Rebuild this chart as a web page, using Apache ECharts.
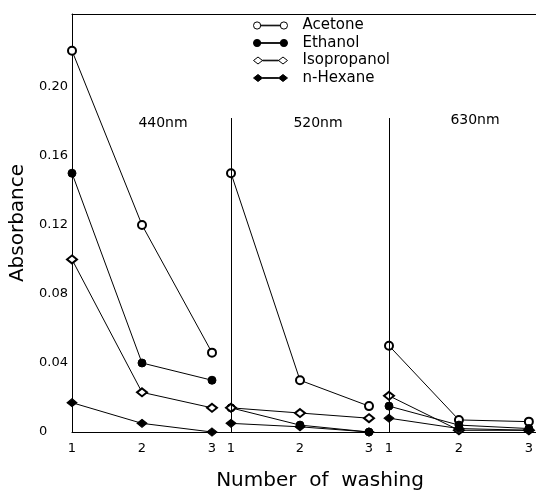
<!DOCTYPE html>
<html>
<head>
<meta charset="utf-8">
<script src="https://cdn.jsdelivr.net/npm/echarts@6/dist/echarts.min.js"></script>
<style>
html,body{margin:0;padding:0;background:#fff;}
#chart{width:536px;height:494px;}
</style>
</head>
<body>
<div id="chart"></div>
<script>
// ---- data ----
const washes = [1, 2, 3];
const panels = ['440nm', '520nm', '630nm'];
const solvents = ['Acetone', 'Ethanol', 'Isopropanol', 'n-Hexane'];
const yTicks = [0, 0.04, 0.08, 0.12, 0.16, 0.20];

const acetone440     = [0.221, 0.120, 0.046];
const ethanol440     = [0.150, 0.040, 0.030];
const isopropanol440 = [0.100, 0.023, 0.014];
const hexane440      = [0.017, 0.005, 0.000];

const acetone520     = [0.150, 0.030, 0.015];
const ethanol520     = [0.014, 0.004, 0.000];
const isopropanol520 = [0.014, 0.011, 0.008];
const hexane520      = [0.005, 0.003, 0.000];

const acetone630     = [0.050, 0.007, 0.006];
const ethanol630     = [0.015, 0.004, 0.002];
const isopropanol630 = [0.021, 0.001, 0.001];
const hexane630      = [0.008, 0.002, 0.001];

const panelData = [
  [acetone440, ethanol440, isopropanol440, hexane440],
  [acetone520, ethanol520, isopropanol520, hexane520],
  [acetone630, ethanol630, isopropanol630, hexane630]
];

// ---- styling ----
const FONT = 'DejaVu Sans';
const symbols = ['emptyCircle', 'circle', 'emptyDiamond', 'diamond'];
const symbolSizes = [8, 8, [10, 8], [10, 8]];
const hollow = [true, false, true, false];

const circIcon = 'path://M0.5,4.5a3.5,3.5 0 1,0 7,0a3.5,3.5 0 1,0 -7,0Z M7.5,4.2L26.5,4.2L26.5,4.8L7.5,4.8Z M26.5,4.5a3.5,3.5 0 1,0 7,0a3.5,3.5 0 1,0 -7,0Z';
const diaIcon = 'path://M0,4.5L4.5,1L9,4.5L4.5,8Z M9,4.2L25,4.2L25,4.8L9,4.8Z M25,4.5L29.5,1L34,4.5L29.5,8Z';
const icons = [circIcon, circIcon, diaIcon, diaIcon];

const gridLeft = [72, 231, 389];
const gridWidth = [159, 158, 147];
const xMax = [1 + 159 / 70, 1 + 158 / 69, 1 + 147 / 70];
const yMax = 0.2423;

const grids = gridLeft.map((l, i) => ({left: l, width: gridWidth[i], top: 14, height: 418}));

const xAxes = [];
for (let i = 0; i < 3; i++) {
  xAxes.push({
    type: 'value', gridIndex: i, min: 1, max: xMax[i], interval: 1,
    axisLine: {show: true, lineStyle: {color: '#000', width: 1}},
    axisTick: {show: false}, splitLine: {show: false},
    axisLabel: {color: '#000', fontFamily: FONT, fontSize: 13, margin: 10,
      showMaxLabel: false,
      formatter: v => (washes.indexOf(Math.round(v)) >= 0 && Math.abs(v - Math.round(v)) < 1e-6) ? String(Math.round(v)) : ''}
  });
}
for (let i = 0; i < 3; i++) {
  xAxes.push({
    type: 'value', gridIndex: i, position: 'top', min: 1, max: xMax[i],
    axisLine: {show: true, onZero: false, lineStyle: {color: '#000', width: 1}},
    axisTick: {show: false}, splitLine: {show: false}, axisLabel: {show: false}
  });
}

const yAxes = [0, 1, 2].map(i => ({
  type: 'value', gridIndex: i, min: 0, max: yMax, interval: 0.04,
  show: i === 0,
  name: i === 0 ? 'Absorbance' : '',
  nameLocation: 'middle', nameGap: 44,
  nameTextStyle: {color: '#000', fontFamily: FONT, fontSize: 20},
  axisLine: {show: true, lineStyle: {color: '#000', width: 1}},
  axisTick: {show: false}, splitLine: {show: false},
  axisLabel: {color: '#000', fontFamily: FONT, fontSize: 13, align: 'left', margin: 33,
    formatter: v => {
      const hit = yTicks.find(t => Math.abs(t - v) < 1e-6);
      if (hit === undefined) return '';
      return hit === 0 ? '0' : hit.toFixed(2);
    }}
}));

const series = [];
panelData.forEach((arrs, p) => {
  arrs.forEach((vals, s) => {
    const ser = {
      name: solvents[s], type: 'line', xAxisIndex: p, yAxisIndex: p,
      data: washes.map((w, k) => [w, vals[k]]),
      symbol: symbols[s], symbolSize: symbolSizes[s], showAllSymbol: true,
      lineStyle: {color: '#000', width: 1},
      itemStyle: {color: '#000', borderColor: '#000', borderWidth: 1},
      emphasis: {disabled: true},
      z: 3
    };
    if (s === 0 && p > 0) {
      ser.markLine = {
        symbol: 'none', silent: true, animation: false,
        label: {show: false},
        lineStyle: {color: '#000', width: 1, type: 'solid'},
        data: [[{coord: [1, 0]}, {coord: [1, 0.182]}]]
      };
    }
    series.push(ser);
  });
});

const panelLabelPos = [[163, 123], [318, 123], [475, 120]];

const option = {
  animation: false,
  backgroundColor: '#fff',
  grid: grids,
  xAxis: xAxes,
  yAxis: yAxes,
  legend: {
    orient: 'vertical', left: 248, top: 13,
    itemWidth: 34, itemHeight: 9, itemGap: 2.5,
    textStyle: {color: '#000', fontFamily: FONT, fontSize: 15, lineHeight: 15, padding: [0, 0, 0, 10]},
    data: solvents.map((n, s) => ({
      name: n, icon: icons[s],
      itemStyle: hollow[s] ? {color: '#fff', borderColor: '#000', borderWidth: 1}
                           : {color: '#000', borderColor: '#000', borderWidth: 1}
    }))
  },
  graphic: panels.map((t, i) => ({
    type: 'text', x: panelLabelPos[i][0], y: panelLabelPos[i][1],
    style: {text: t, fill: '#000', font: '14px "DejaVu Sans"', align: 'center', verticalAlign: 'middle'}
  })).concat([{
    type: 'text', x: 320, y: 481,
    style: {text: 'Number  of  washing', fill: '#000', font: '20px "DejaVu Sans"', align: 'center', verticalAlign: 'middle'}
  }]),
  series: series
};

const chart = echarts.init(document.getElementById('chart'), null, {renderer: 'canvas'});
chart.setOption(option);
</script>
</body>
</html>
